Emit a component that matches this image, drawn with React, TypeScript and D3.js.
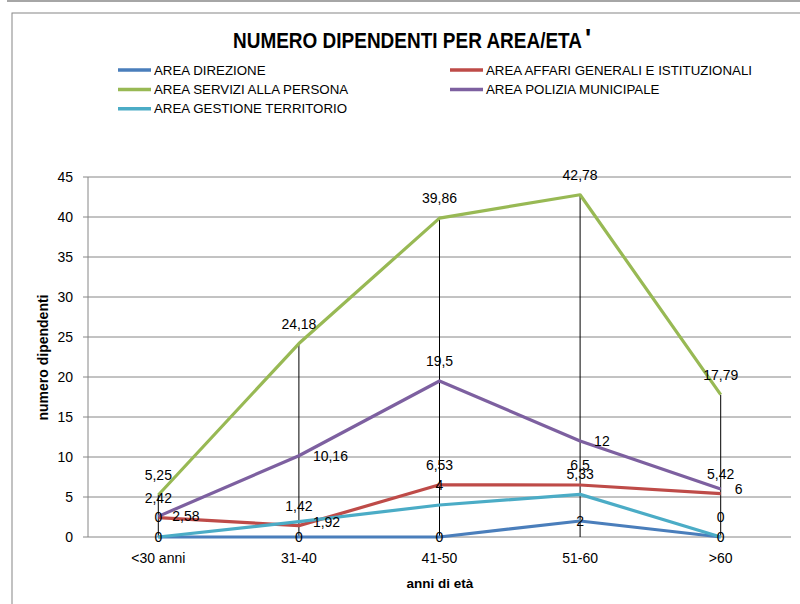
import React from "react";
import * as d3 from "d3";

const categories = ["<30 anni", "31-40", "41-50", "51-60", ">60"];
const seriesNames = [
  "AREA DIREZIONE",
  "AREA AFFARI GENERALI E ISTITUZIONALI",
  "AREA SERVIZI ALLA PERSONA",
  "AREA POLIZIA MUNICIPALE",
  "AREA GESTIONE TERRITORIO",
];
const direzione = [0, 0, 0, 2, 0];
const affariGenerali = [2.42, 1.42, 6.53, 6.5, 5.42];
const serviziPersona = [5.25, 24.18, 39.86, 42.78, 17.79];
const poliziaMunicipale = [2.58, 10.16, 19.5, 12, 6];
const gestioneTerritorio = [0, 1.92, 4, 5.33, 0];
const yTicks = [0, 5, 10, 15, 20, 25, 30, 35, 40, 45];

const seriesValues = [direzione, affariGenerali, serviziPersona, poliziaMunicipale, gestioneTerritorio];
const seriesColors = ["#4A7EBB", "#BE4B48", "#98B954", "#7D60A0", "#4BACC6"];
// data label placement per point (Excel style)
const labelPlacement = [
  ["center", "center", "center", "center", "center"],
  ["above", "above", "above", "above", "above"],
  ["above", "above", "above", "above", "above"],
  ["right", "right", "above", "right", "right"],
  ["above", "right", "above", "above", "above"],
];

const FONT = "'Liberation Sans', Arial, sans-serif";

export default function App() {
  const x = d3.scaleBand<string>().domain(categories).range([88, 791]).padding(0);
  const y = d3.scaleLinear().domain([0, 45]).range([537, 177]);
  const cx = (c: string) => (x(c) as number) + x.bandwidth() / 2;
  const line = d3
    .line<number>()
    .x((_, i) => cx(categories[i]))
    .y((d) => y(d));
  const fmt = (v: number) => String(v).replace(".", ",");

  const legendItems = seriesNames.map((name, i) => {
    const col = i % 2;
    const row = Math.floor(i / 2);
    return { name, color: seriesColors[i], x: col === 0 ? 118 : 450, y: 70 + row * 19.4 };
  });

  return (
    <svg
      width={800}
      height={604}
      style={{ position: "absolute", left: 0, top: 0, background: "#fff" }}
      fontFamily={FONT}
    >
      <line x1={7} x2={800} y1={1} y2={1} stroke="#a6a6a6" strokeWidth={2} />
      <rect x={12} y={13} width={820} height={620} fill="#fff" stroke="#868686" strokeWidth={1} />

      <text
        x={233}
        y={47.5}
        textAnchor="start"
        fontSize={22}
        fontWeight="bold"
        fill="#000"
        textLength={349}
        lengthAdjust="spacingAndGlyphs"
      >
        NUMERO DIPENDENTI PER AREA/ETA
      </text>
      <text x={585} y={47} fontSize={26} fontWeight="bold" fill="#000">
        '
      </text>

      {legendItems.map((it) => (
        <g key={it.name}>
          <line x1={it.x} x2={it.x + 33} y1={it.y} y2={it.y} stroke={it.color} strokeWidth={3.5} />
          <text x={it.x + 36} y={it.y + 4.5} fontSize={13.3} fill="#000">
            {it.name}
          </text>
        </g>
      ))}

      {/* gridlines */}
      {yTicks.map((t) => (
        <g key={t}>
          <line x1={88} x2={791} y1={y(t)} y2={y(t)} stroke="#868686" strokeWidth={1} />
          <line x1={83} x2={88} y1={y(t)} y2={y(t)} stroke="#868686" strokeWidth={1} />
          <text x={73} y={y(t) + 5} textAnchor="end" fontSize={14} fill="#000">
            {t}
          </text>
        </g>
      ))}
      <line x1={88} x2={88} y1={y(45)} y2={y(0)} stroke="#868686" strokeWidth={1} />

      {/* x labels */}
      {categories.map((c) => (
        <text key={c} x={cx(c)} y={563} textAnchor="middle" fontSize={14} fill="#000">
          {c}
        </text>
      ))}

      <text x={440} y={588} textAnchor="middle" fontSize={13.5} fontWeight="bold" fill="#000">
        anni di età
      </text>
      <text
        transform={`translate(48,357.5) rotate(-90)`}
        textAnchor="middle"
        fontSize={14}
        fontWeight="bold"
        fill="#000"
      >
        numero dipendenti
      </text>

      {/* drop lines */}
      {categories.map((c, i) => {
        const maxV = d3.max(seriesValues, (s) => s[i]) as number;
        return (
          <line key={"drop" + c} x1={cx(c)} x2={cx(c)} y1={y(maxV)} y2={y(0)} stroke="#000" strokeWidth={1} />
        );
      })}

      {/* series lines */}
      {seriesValues.map((vals, si) => (
        <path
          key={"s" + si}
          d={line(vals) as string}
          fill="none"
          stroke={seriesColors[si]}
          strokeWidth={3.2}
          strokeLinejoin="round"
        />
      ))}

      {/* data labels */}
      {seriesValues.map((vals, si) =>
        vals.map((v, i) => {
          const pos = labelPlacement[si][i];
          const px = cx(categories[i]);
          const py = y(v);
          let tx = px;
          let ty = py + 5;
          let anchor: "middle" | "start" = "middle";
          if (pos === "above") {
            ty = py - 20 + 5;
          } else if (pos === "right") {
            tx = px + 14;
            anchor = "start";
          }
          return (
            <text key={`l${si}-${i}`} x={tx} y={ty} textAnchor={anchor} fontSize={14} fill="#000">
              {fmt(v)}
            </text>
          );
        })
      )}
    </svg>
  );
}
